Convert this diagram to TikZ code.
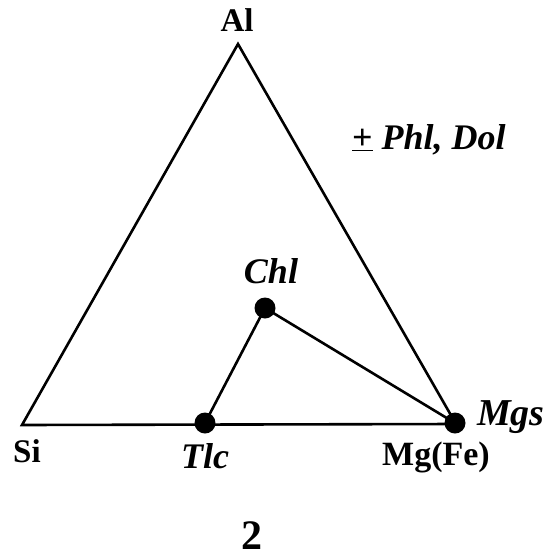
\documentclass[tikz,border=0pt]{standalone}
\usepackage{fontspec}
\setmainfont{Liberation Serif}
\begin{document}
\begin{tikzpicture}[x=1pt,y=-1pt,
  edge/.style={line width=2.6pt},
  dot/.style={circle,fill=black,inner sep=0pt,minimum size=21pt},
  lab/.style={font=\fontsize{36}{38}\selectfont\bfseries\itshape,inner sep=0pt,anchor=base},
  corner/.style={font=\fontsize{33}{35}\selectfont\bfseries,inner sep=0pt,anchor=base}]
\useasboundingbox (0,0) rectangle (552,558);
\coordinate (Al) at (238,44);
\coordinate (Si) at (22,425);
\coordinate (Mg) at (456,424);
\node[dot] (chl) at (265,308) {};
\node[dot] (tlc) at (205,423) {};
\node[dot] (mgs) at (455,423) {};
\draw[edge,line join=miter] (Al) -- (Si) -- (Mg) -- cycle;
\draw[edge] (chl.center) -- (tlc.center);
\draw[edge] (chl.center) -- (mgs.center);
\node[corner] (alL) at (237,31) {Al};
\node[corner] (siL) at (27,462) {Si};
\node[corner,font=\fontsize{34}{36}\selectfont\bfseries] (mgL) at (436,465) {Mg(Fe)};
\node[lab] (chlL) at (271,283) {Chl};
\node[lab] (tlcL) at (205,468) {Tlc};
\node[lab,font=\fontsize{38}{40}\selectfont\bfseries\itshape] (mgsL) at (511,425) {Mgs};
\node[lab,anchor=base west] (extra) at (352,149) {{\upshape\underline{+}} Phl, Dol};
\node[corner,font=\fontsize{42}{44}\selectfont\bfseries] (num) at (252,549) {2};
\end{tikzpicture}
\end{document}
